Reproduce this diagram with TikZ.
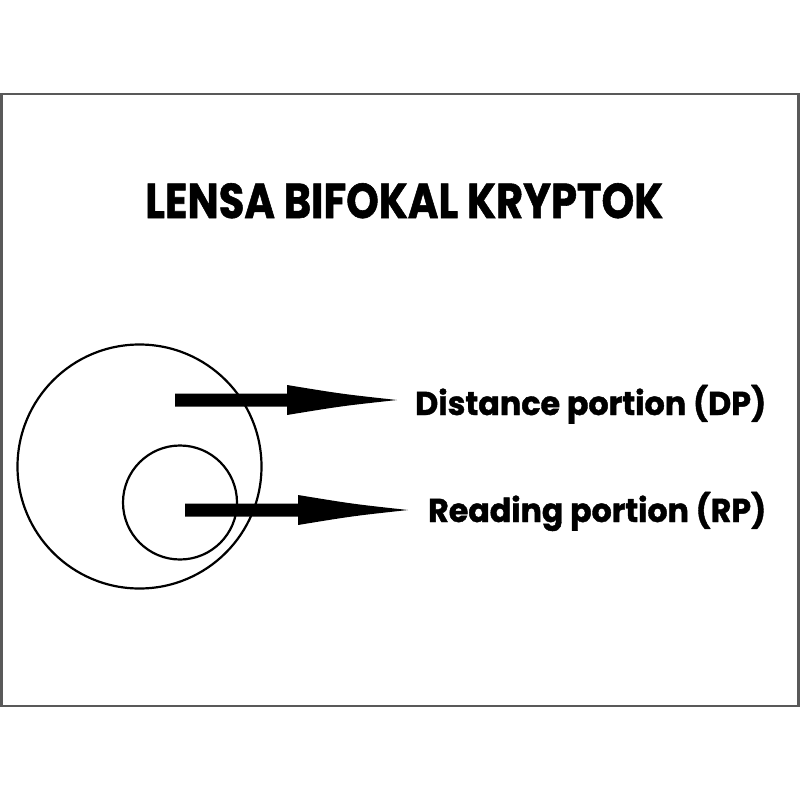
\documentclass[tikz,border=0pt]{standalone}
\usepackage{fontspec}
\usepackage{graphicx}
\setmainfont{Poppins}[BoldFeatures={FakeBold=1.2}]
\usetikzlibrary{calc}
\tikzset{
  ring/.style={circle,draw=black,line width=2.2pt,minimum size=#1,inner sep=0pt},
  lbl/.style={anchor=base west,inner sep=0pt,font=\bfseries\fontsize{33}{33}\selectfont},
  ttl/.style={anchor=base west,inner sep=0pt,font=\bfseries\fontsize{49}{49}\selectfont},
}
\newcommand{\fatarrow}[2]{%
  \fill[black] ($(#1)+(0,6.5)$) -- ($(#2)+(-110,6.5)$) -- ($(#2)+(-110,15)$)
     .. controls ($(#2)+(-55,6)$) .. (#2)
     .. controls ($(#2)+(-55,-6)$) .. ($(#2)+(-110,-15)$)
     -- ($(#2)+(-110,-6.5)$) -- ($(#1)+(0,-6.5)$) -- cycle;}
\begin{document}
\begin{tikzpicture}[x=1pt,y=-1pt]
\useasboundingbox[fill=white] (0,0) rectangle (800,800);
\draw[line width=2.5pt,draw=black!65] (1.5,94) rectangle (798.5,706);
\node[ttl] (title) at (145,218) {\resizebox{518pt}{\height}{LENSA BIFOKAL KRYPTOK}};
\node[ring=244pt] (big) at (139.5,466.5) {};
\node[ring=114pt] (small) at (180,502.5) {};
\node[lbl] (dp) at (415,415) {\resizebox{351pt}{\height}{Distance portion (DP)}};
\node[lbl] (rp) at (428,522) {\resizebox{338pt}{\height}{Reading portion (RP)}};
\coordinate (d1) at (175,400);
\coordinate (d2) at (397,400);
\coordinate (r1) at (185,510);
\coordinate (r2) at (408,510);
\fatarrow{d1}{d2}
\fatarrow{r1}{r2}
\end{tikzpicture}
\end{document}
